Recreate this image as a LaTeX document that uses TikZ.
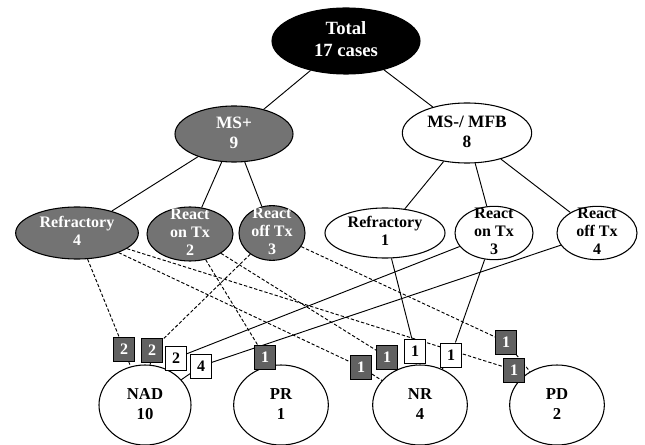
\documentclass[tikz,border=0pt]{standalone}
\usepackage{fontspec}
\setmainfont{Liberation Serif}
\usetikzlibrary{shapes.geometric,backgrounds}
\definecolor{msgray}{gray}{0.45}
\definecolor{boxgray}{gray}{0.38}
\newcommand{\ntxt}[1]{\makebox[0pt]{\smash{\raisebox{-0.25em}{\begin{tabular}{@{}c@{}}#1\end{tabular}}}}}
\begin{document}
\begin{tikzpicture}[x=0.75pt,y=-0.75pt,
		every node/.style={font=\bfseries\fontsize{12}{13.5}\selectfont},
		cohort/.style={ellipse,draw,line width=0.8pt,inner sep=0pt},
		posgroup/.style={cohort,fill=msgray,text=white},
		neggroup/.style={cohort,fill=white},
		outcome/.style={cohort,fill=white,minimum width=71pt,minimum height=60pt,font=\bfseries\fontsize{12.5}{15}\selectfont},
		gbox/.style={rectangle,draw,line width=0.7pt,fill=boxgray,text=white,inner sep=0pt,minimum width=15.75pt,minimum height=18pt,font=\bfseries\fontsize{12}{12}\selectfont},
		wbox/.style={gbox,fill=white,text=black},
		treeline/.style={line width=0.7pt},
		dashline/.style={line width=0.7pt,dash pattern=on 2.5pt off 1.5pt}]
		\useasboundingbox (0,0) rectangle (645,445);
		\node[cohort,fill=black,text=white,minimum width=111pt,minimum height=49.5pt,font=\bfseries\fontsize{14}{16.5}\selectfont](total) at (346,41){\ntxt{Total\\17 cases}};
		\node[posgroup,minimum width=88.5pt,minimum height=42pt,font=\bfseries\fontsize{13}{15}\selectfont](msp) at (234,134){\ntxt{MS+\\9}};
		\node[neggroup,minimum width=97pt,minimum height=45pt,font=\bfseries\fontsize{13}{15}\selectfont](msn) at (467,133){\ntxt{MS-/ MFB\\8}};
		% second row
		\node[posgroup,minimum width=92pt,minimum height=39pt](refp) at (77,233){\ntxt{Refractory\\4}};
		\node[posgroup,minimum width=64.5pt,minimum height=40.5pt](onp) at (190,234){\ntxt{React\\on Tx\\2}};
		\node[posgroup,minimum width=49.5pt,minimum height=41pt](offp) at (272,233){\ntxt{React\\off Tx\\3}};
		\node[neggroup,minimum width=90pt,minimum height=37.5pt](refn) at (385,233){\ntxt{Refractory\\1}};
		\node[neggroup,minimum width=58.5pt,minimum height=40pt](onn) at (494,233){\ntxt{React\\on Tx\\3}};
		\node[neggroup,minimum width=60pt,minimum height=40pt](offn) at (597,233){\ntxt{React\\off Tx\\4}};
		% outcomes
		\node[outcome,minimum width=69pt](nad) at (145,405){\ntxt{NAD\\10}};
		\node[outcome](pr) at (281,405){\ntxt{PR\\1}};
		\node[outcome](nr) at (420,405){\ntxt{NR\\4}};
		\node[outcome](pd) at (557,405){\ntxt{PD\\2}};
		% counts
		\node[gbox](nadA) at (124,349){2};
		\node[gbox](nadB) at (152,350){2};
		\node[wbox](nadC) at (176,358){2};
		\node[wbox](nadD) at (201,366){4};
		\node[gbox](prA) at (265,357){1};
		\node[gbox](nrA) at (361,367){1};
		\node[gbox](nrB) at (387,357){1};
		\node[wbox](nrC) at (415,351){1};
		\node[wbox](nrD) at (451,355){1};
		\node[gbox](pdA) at (506,342){1};
		\node[gbox](pdB) at (514,370){1};
		\begin{scope}[on background layer]
		\path[treeline]
		(total) edge (msp) edge (msn)
		(msp) edge (refp) edge (onp) edge (offp)
		(msn) edge (refn) edge (onn) edge (offn);
		\path[dashline]
		(refp) edge (nadA) edge (nrA) edge (pdB)
		(onp) edge (prA) edge (nrB)
		(offp) edge (nadB) edge (pdA)
		(nadA) edge (nad) (nadB) edge (nad) (prA) edge (pr)
		(nrA) edge (nr) (nrB) edge (nr) (pdA) edge (pd) (pdB) edge (pd);
		\path[treeline]
		(refn) edge (nrC)
		(onn) edge (nadC) edge (nrD)
		(offn) edge (nadD)
		(nadC) edge (nad) (nadD) edge (nad) (nrC) edge (nr) (nrD) edge (nr);
		\end{scope}
		
		\end{tikzpicture}
\end{document}
